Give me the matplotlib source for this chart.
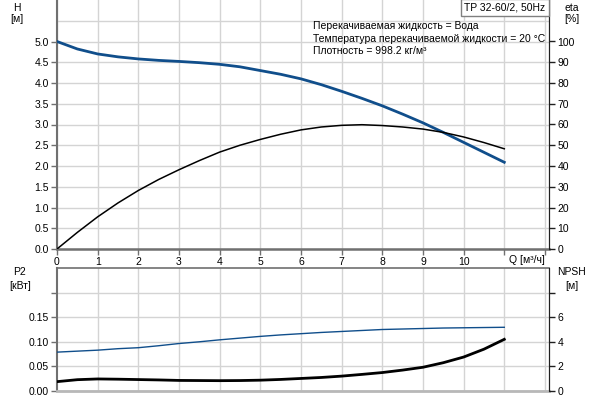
import matplotlib
matplotlib.use('Agg')
import matplotlib.pyplot as plt
import numpy as np

plt.rcParams['font.family'] = ['Liberation Sans', 'DejaVu Sans']
plt.rcParams['font.size'] = 7.5

# Flow Q [m3/h]
q = [0, 0.5, 1, 1.5, 2, 2.5, 3, 3.5, 4, 4.5, 5, 5.5, 6, 6.5, 7, 7.5,
     8, 8.5, 9, 9.5, 10, 10.5, 11]

# Head H [m]
head = [5.00, 4.82, 4.70, 4.63, 4.58, 4.545, 4.52, 4.49, 4.45, 4.39, 4.30,
        4.21, 4.10, 3.96, 3.80, 3.63, 3.45, 3.25, 3.04, 2.81, 2.57, 2.33, 2.09]

# Efficiency eta [%]
eta = [0, 8.0, 15.5, 22.2, 28.2, 33.5, 38.2, 42.6, 46.7, 50.0, 52.8, 55.3,
       57.4, 58.8, 59.6, 59.9, 59.5, 58.8, 57.8, 56.2, 54.0, 51.3, 48.3]

# Power P2 [kW]
p2 = [0.079, 0.081, 0.083, 0.086, 0.088, 0.092, 0.0965, 0.100, 0.104, 0.1075,
      0.111, 0.114, 0.1165, 0.119, 0.121, 0.123, 0.125, 0.126, 0.127, 0.128,
      0.1285, 0.129, 0.1295]

# NPSH [m]
npsh = [0.76, 0.92, 0.98, 0.96, 0.93, 0.90, 0.86, 0.85, 0.84, 0.85, 0.88, 0.94,
        1.02, 1.10, 1.21, 1.35, 1.50, 1.70, 1.93, 2.30, 2.76, 3.40, 4.20]

blue = '#104e8b'
grid_c = '#d4d4d4'

fig = plt.figure(figsize=(6, 4), dpi=100)
ax1 = fig.add_axes([0.095, 0.3775, 0.82, 0.6225])
ax1r = ax1.twinx()
ax2 = fig.add_axes([0.095, 0.0225, 0.82, 0.3075])
ax2r = ax2.twinx()

# --- top plot: H and eta ---
ax1.plot(q, head, color=blue, lw=2.0, zorder=3)
ax1r.plot(q, eta, color='black', lw=1.1, zorder=3)

ax1.set_xlim(0, 12.1)
ax1.set_ylim(0, 6)
ax1r.set_ylim(0, 120)

ax1.set_xticks(range(0, 13))
ax1.set_xticklabels([str(i) for i in range(0, 11)] + ['', ''])
ax1.set_yticks(np.arange(0, 5.01, 0.5))
ax1.set_yticklabels(['%.1f' % v for v in np.arange(0, 5.01, 0.5)])
ax1.set_yticks([5.5], minor=True)
ax1r.set_yticks(range(0, 101, 10))

ax1.grid(True, which='both', color=grid_c, lw=1)
ax1.tick_params(axis='y', which='minor', length=0)
ax1.tick_params(axis='both', which='major', length=4, width=1, color='#707070', pad=2)
ax1r.tick_params(axis='y', length=4, width=1, color='#202020', pad=2)

for a in (ax1, ax1r):
    a.spines['top'].set_visible(False)
ax1.spines['left'].set_color('#707070')
ax1.spines['left'].set_linewidth(1.5)
ax1.spines['bottom'].set_color('#707070')
ax1.spines['bottom'].set_linewidth(1.8)
ax1r.spines['right'].set_color('#202020')
ax1r.spines['left'].set_visible(False)
ax1r.spines['bottom'].set_visible(False)

ax1.text(11.55, -0.27, 'Q [м³/ч]', ha='center', va='center', fontsize=7.5)

fig.text(17 / 600, 1 - 8 / 400, 'H', ha='center', va='center', fontsize=7.5)
fig.text(17 / 600, 1 - 19 / 400, '[м]', ha='center', va='center', fontsize=7.5)
fig.text(572 / 600, 1 - 8 / 400, 'eta', ha='center', va='center', fontsize=7.5)
fig.text(572 / 600, 1 - 19 / 400, '[%]', ha='center', va='center', fontsize=7.5)

fig.text(505 / 600, 1 - 7.5 / 400, 'TP 32-60/2, 50Hz', ha='center', va='center',
         fontsize=7.5,
         bbox=dict(boxstyle='square,pad=0.3', fc='white', ec='#808080', lw=1))

info = ['Перекачиваемая жидкость = Вода',
        'Температура перекачиваемой жидкости = 20 °C',
        'Плотность = 998.2 кг/м³']
for i, line in enumerate(info):
    fig.text(313 / 600, 1 - (26 + 12.7 * i) / 400, line, ha='left', va='center',
             fontsize=7.5)

# --- bottom plot: P2 and NPSH ---
ax2.plot(q, p2, color=blue, lw=1.0, zorder=3)
ax2r.plot(q, npsh, color='black', lw=2.0, zorder=3)

ax2.set_xlim(0, 12.1)
ax2.set_ylim(0, 0.25)
ax2r.set_ylim(0, 10)
ax2.set_xticks(range(1, 13))
ax2.set_xticklabels([])
ax2.set_yticks([0, 0.05, 0.10, 0.15, 0.20])
ax2.set_yticklabels(['0.00', '0.05', '0.10', '0.15', ''])
ax2r.set_yticks([0, 2, 4, 6, 8])
ax2r.set_yticklabels(['0', '2', '4', '6', ''])

ax2.grid(True, color=grid_c, lw=1)
ax2.tick_params(axis='x', length=0)
ax2.tick_params(axis='y', length=4, width=1, color='#707070', pad=2)
ax2r.tick_params(axis='y', length=4, width=1, color='#202020', pad=2)

ax2.spines['left'].set_color('#707070')
ax2.spines['left'].set_linewidth(1.5)
ax2.spines['top'].set_color('#707070')
ax2.spines['top'].set_linewidth(1.2)
ax2.spines['bottom'].set_color('#b8b8b8')
ax2.spines['bottom'].set_linewidth(2)
ax2r.spines['right'].set_color('#202020')
for s in ('left', 'top', 'bottom'):
    ax2r.spines[s].set_visible(False)

fig.text(20 / 600, 1 - 272 / 400, 'P2', ha='center', va='center', fontsize=7.5)
fig.text(20 / 600, 1 - 286 / 400, '[кВт]', ha='center', va='center', fontsize=7.5)
fig.text(572 / 600, 1 - 272 / 400, 'NPSH', ha='center', va='center', fontsize=7.5)
fig.text(572 / 600, 1 - 286 / 400, '[м]', ha='center', va='center', fontsize=7.5)

fig.savefig('out.png', dpi=100)
